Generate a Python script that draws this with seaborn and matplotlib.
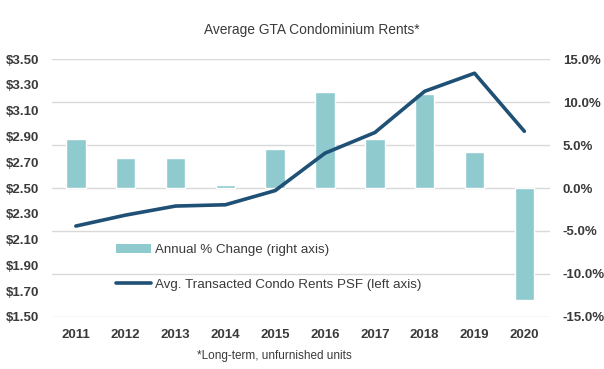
import matplotlib
matplotlib.use("Agg")
import matplotlib.pyplot as plt
import seaborn as sns
import pandas as pd
from matplotlib.patches import Patch
from matplotlib.lines import Line2D

years = ["2011", "2012", "2013", "2014", "2015", "2016", "2017", "2018", "2019", "2020"]
annual_change = [5.7, 3.5, 3.5, 0.4, 4.5, 11.2, 5.7, 10.9, 4.2, -13.0]
rents_psf = [2.205, 2.29, 2.36, 2.37, 2.48, 2.77, 2.93, 3.25, 3.39, 2.94]

left_ticks = [1.50, 1.70, 1.90, 2.10, 2.30, 2.50, 2.70, 2.90, 3.10, 3.30, 3.50]
right_ticks = [-15, -10, -5, 0, 5, 10, 15]

bar_color = "#8FCACF"
line_color = "#1F5075"
text_color = "#3A3A3A"

sns.set_theme(style="white")
plt.rcParams["font.family"] = ["Liberation Sans", "DejaVu Sans"]

df = pd.DataFrame({"year": years, "change": annual_change, "rent": rents_psf})

fig = plt.figure(figsize=(6.04, 3.69), dpi=100)
ax_bar = fig.add_axes([0.086, 0.141, 0.825, 0.699])
sns.barplot(data=df, x="year", y="change", color=bar_color, width=0.39,
            saturation=1, ax=ax_bar, zorder=2)
ax_line = ax_bar.twinx()
sns.lineplot(data=df, x="year", y="rent", color=line_color, linewidth=2.6,
             ax=ax_line, sort=False)

ax_bar.set_ylim(-15, 15)
ax_bar.set_yticks(right_ticks)
ax_bar.set_yticklabels([f"{v:.1f}%" for v in right_ticks])
ax_bar.yaxis.tick_right()
ax_bar.yaxis.set_label_position("right")
ax_bar.set_xlim(-0.48, 9.52)
ax_bar.grid(axis="y", color="#D9D9D9", linewidth=1, zorder=0)
ax_bar.set_axisbelow(True)
for s in ax_bar.spines.values():
    s.set_visible(False)
ax_bar.set_xlabel("")
ax_bar.set_ylabel("")
ax_bar.tick_params(axis="y", length=0, pad=9, labelsize=9.5, colors=text_color)
ax_bar.tick_params(axis="x", length=0, pad=9, labelsize=9.5, colors=text_color)

ax_line.set_ylim(1.50, 3.50)
ax_line.set_yticks(left_ticks)
ax_line.set_yticklabels([f"${v:.2f}" for v in left_ticks])
ax_line.yaxis.tick_left()
ax_line.yaxis.set_label_position("left")
ax_line.set_xlim(-0.48, 9.52)
for s in ax_line.spines.values():
    s.set_visible(False)
ax_line.set_xlabel("")
ax_line.set_ylabel("")
ax_line.tick_params(axis="y", length=0, pad=9, labelsize=9.5, colors=text_color)
ax_line.grid(False)

for lab in ax_bar.get_xticklabels() + ax_bar.get_yticklabels() + ax_line.get_yticklabels():
    lab.set_fontweight("semibold")

handles = [Patch(facecolor=bar_color, edgecolor="none"),
           Line2D([0], [0], color=line_color, linewidth=2.6)]
labels = ["Annual % Change (right axis)", "Avg. Transacted Condo Rents PSF (left axis)"]
leg = ax_line.legend(handles, labels, loc="lower left", bbox_to_anchor=(0.115, 0.075),
                     frameon=False, fontsize=9.6, handlelength=2.6, handleheight=0.6,
                     handletextpad=0.3, labelspacing=1.7, borderpad=0)
for t in leg.get_texts():
    t.set_color(text_color)

fig.text(0.517, 0.918, "Average GTA Condominium Rents*", ha="center", va="center",
         fontsize=9.9, color=text_color)
fig.text(0.455, 0.035, "*Long-term, unfurnished units", ha="center", va="center",
         fontsize=8.5, color=text_color)

fig.savefig("out.png", dpi=100, facecolor="white")
